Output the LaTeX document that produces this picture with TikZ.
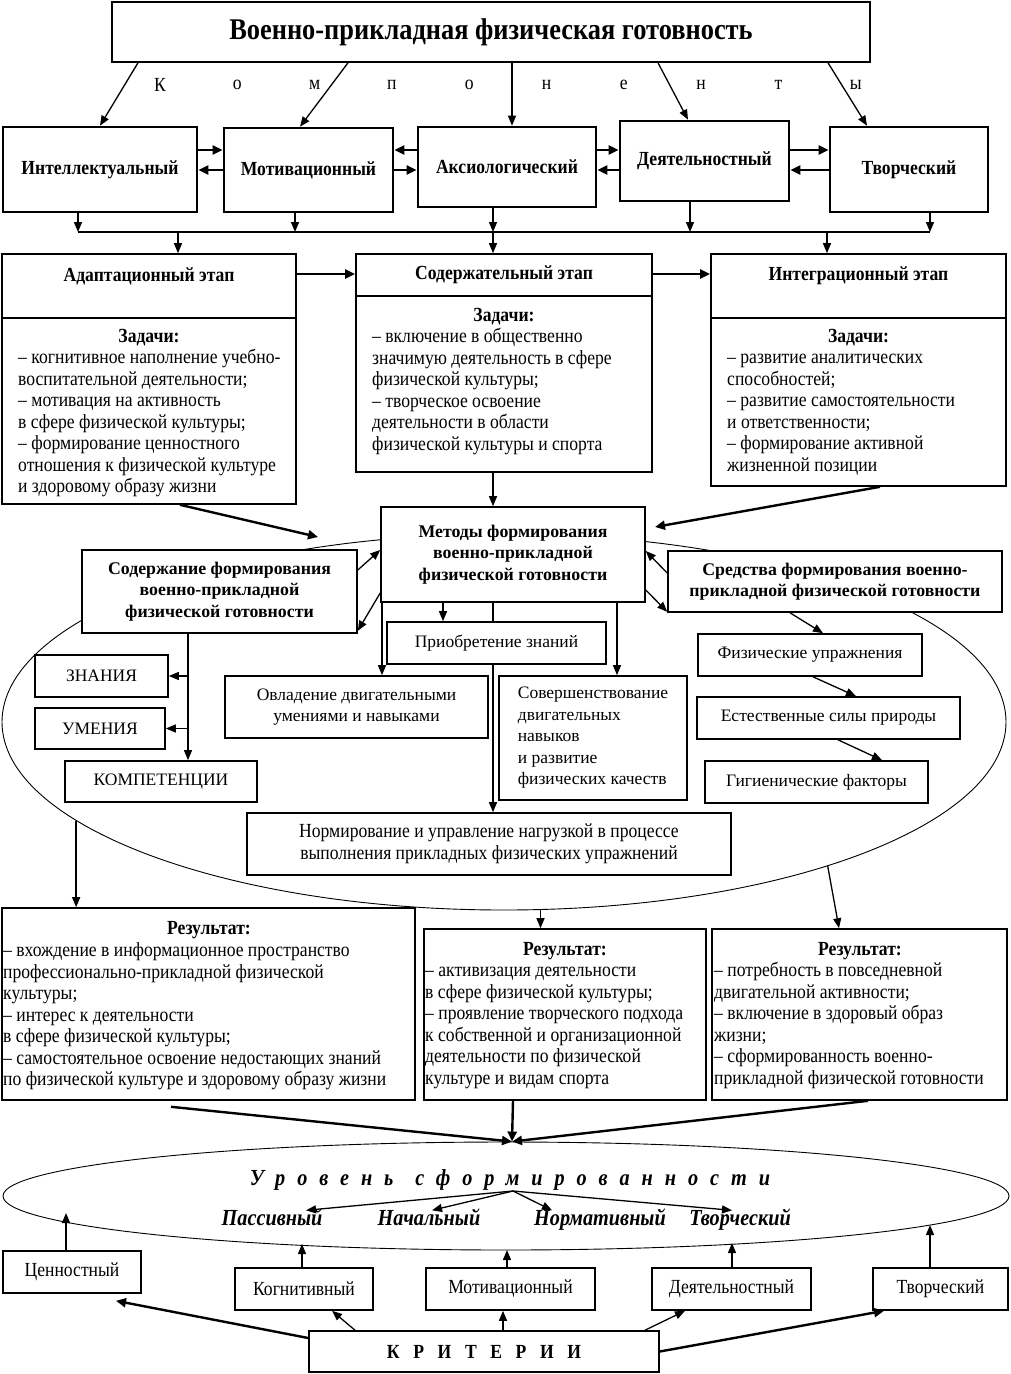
\documentclass[tikz,border=0pt]{standalone}
\usepackage{fontspec}
\setmainfont{Liberation Serif}[FakeStretch=0.88]
\newfontfamily\plainserif{Liberation Serif}
\usetikzlibrary{arrows.meta,shapes.geometric,calc}

\newcommand\ctxt{\fontsize{20}{21.5}\selectfont}
\newcommand\ctxtb{\fontsize{20}{21.5}\selectfont\bfseries}
\newcommand\ctitle{\fontsize{30}{32}\selectfont\bfseries}
\newcommand\ntxt{\plainserif\fontsize{17.5}{21.5}\selectfont}
\newcommand\ntxtb{\plainserif\fontsize{17.8}{21.5}\selectfont\bfseries}
\newcommand\clevel{\fontsize{23}{24}\selectfont\bfseries\itshape}

\tikzset{
  box/.style={draw, line width=1.6pt, fill=white, inner sep=0pt, align=center, font=\ctxt},
  compbox/.style={box, line width=2.6pt, font=\ctxtb},
  nbox/.style={box, font=\ntxt},
  oval/.style={draw, ellipse, line width=0.9pt, inner sep=0pt},
  textlines/.style={inner sep=0pt, anchor=north west, align=left, font=\ctxt},
  levelword/.style={font=\clevel, text height=15pt, text depth=4pt, inner sep=0pt},
  arr/.style={-{Triangle[length=10pt,width=8pt]}, line width=1.3pt},
  thick arr/.style={-{Triangle[length=10pt,width=9pt]}, line width=2.4pt},
}

\begin{document}
\begin{tikzpicture}[x=1pt,y=-1pt]
\useasboundingbox (0,0) rectangle (1010,1374);

% ellipses
\node[oval, minimum width=1004pt, minimum height=376pt] (field) at (504,722) {};
\node[oval, minimum width=1006pt, minimum height=108pt] (level) at (506,1196) {};

% title and components
\node[box, minimum width=758pt, minimum height=60pt, font=\ctitle] (title) at (491,32) {Военно-прикладная физическая готовность};
\foreach \ch [count=\i from 0] in {К,о,м,п,о,н,е,н,т,ы}
  \node[font=\ctxt] (let\i) at (160+77.3*\i,85) {\ch};

\node[compbox, minimum width=194pt, minimum height=85pt] (intel) at (100,169.5) {Интеллектуальный};
\node[compbox, minimum width=169pt, minimum height=84pt] (motiv) at (308.5,170) {Мотивационный};
\node[compbox, minimum width=178pt, minimum height=80pt] (axio) at (507,167) {Аксиологический};
\node[compbox, minimum width=169pt, minimum height=80pt] (deyat) at (704.5,161) {Деятельностный};
\node[compbox, minimum width=158pt, minimum height=85pt] (tvor) at (909,169.5) {Творческий};

\draw[arr] (138,0 |- title.south) -- (intel.north);
\draw[arr] (348,0 |- title.south) -- (300,0 |- motiv.north);
\draw[arr] (512,0 |- title.south) -- (512,0 |- axio.north);
\draw[arr] (658,0 |- title.south) -- (688,0 |- deyat.north);
\draw[arr] (828,0 |- title.south) -- (867,0 |- tvor.north);

\draw[thick arr] (intel.east |- 0,150) -- (motiv.west |- 0,150);
\draw[thick arr] (motiv.west |- 0,170) -- (intel.east |- 0,170);
\draw[thick arr] (axio.west |- 0,150) -- (motiv.east |- 0,150);
\draw[thick arr] (motiv.east |- 0,170) -- (axio.west |- 0,170);
\draw[thick arr] (axio.east |- 0,150) -- (deyat.west |- 0,150);
\draw[thick arr] (deyat.west |- 0,170) -- (axio.east |- 0,170);
\draw[thick arr] (deyat.east |- 0,150) -- (tvor.west |- 0,150);
\draw[thick arr] (tvor.west |- 0,170) -- (deyat.east |- 0,170);

% bus
\coordinate (busL) at (78,232);
\coordinate (busR) at (930,232);
\draw[line width=1.4pt] (busL) -- (busR);
\draw[arr] (78,0 |- intel.south) -- (busL);
\draw[arr] (295,0 |- motiv.south) -- (295,0 |- busL);
\draw[arr] (493,0 |- axio.south) -- (493,0 |- busL);
\draw[arr] (690,0 |- deyat.south) -- (690,0 |- busL);
\draw[arr] (930,0 |- tvor.south) -- (busR);

% stages
\node[box, minimum width=294pt, minimum height=186pt] (adaptB) at (149,411) {};
\node[box, minimum width=294pt, minimum height=64pt] (adaptH) at (149,286) {};
\node[font=\ctxtb] (adaptT) at (149,276) {Адаптационный этап};
\node[font=\ctxtb] (adaptZ) at (149,338) {Задачи:};
\node[textlines] (adaptL) at (18,348.5) {\strut– когнитивное наполнение учебно-\\воспитательной деятельности;\\– мотивация на активность\\в сфере физической культуры;\\– формирование ценностного\\отношения к физической культуре\\и здоровому образу жизни};

\node[box, minimum width=296pt, minimum height=176pt] (contB) at (504,384) {};
\node[box, minimum width=296pt, minimum height=42pt, font=\ctxtb] (contH) at (504,275) {Содержательный этап};
\node[font=\ctxtb] (contZ) at (504,317) {Задачи:};
\node[textlines] (contL) at (372,327.5) {\strut– включение в общественно\\значимую деятельность в сфере\\физической культуры;\\– творческое освоение\\деятельности в области\\физической культуры и спорта};

\node[box, minimum width=295pt, minimum height=168pt] (integB) at (858.5,402) {};
\node[box, minimum width=295pt, minimum height=64pt] (integH) at (858.5,286) {};
\node[font=\ctxtb] (integT) at (858.5,276) {Интеграционный этап};
\node[font=\ctxtb] (integZ) at (858.5,338) {Задачи:};
\node[textlines] (integL) at (727,348.5) {\strut– развитие аналитических\\способностей;\\– развитие самостоятельности\\и ответственности;\\– формирование активной\\жизненной позиции};

\draw[arr] (178,0 |- busL) -- (178,0 |- adaptH.north);
\draw[arr] (493,0 |- busL) -- (493,0 |- contH.north);
\draw[arr] (827,0 |- busL) -- (827,0 |- integH.north);
\draw[thick arr] (adaptH.east |- 0,274) -- (contH.west |- 0,274);
\draw[thick arr] (contH.east |- 0,274) -- (integH.west |- 0,274);

% methods, content, means
\node[box, minimum width=264pt, minimum height=95pt, font=\ntxtb] (methods) at (513,554.5) {Методы формирования\\военно-прикладной\\физической готовности};
\node[box, minimum width=275pt, minimum height=83pt, font=\ntxtb] (content) at (219.5,591.5) {Содержание формирования\\военно-прикладной\\физической готовности};
\node[box, minimum width=334pt, minimum height=61pt, font=\ntxtb] (means) at (835,581.5) {Средства формирования военно-\\прикладной физической готовности};

\draw[arr] (493,0 |- contB.south) -- (493,0 |- methods.north);
\coordinate (fieldL) at (318,537);
\coordinate (fieldR) at (655,527);
\draw[thick arr] (180,0 |- adaptB.south) -- (fieldL);
\draw[thick arr] (880,0 |- integB.south) -- (fieldR);

\draw[arr] (content.east |- 0,570) -- (methods.west |- 0,550);
\draw[arr] (methods.west |- 0,593) -- ($(content.south east)+(0,-3)$);
\draw[arr] (means.west |- 0,573) -- (methods.east |- 0,551);
\draw[arr] (methods.east |- 0,590) -- ($(means.south west)+(0,-1)$);

\node[box, minimum width=484pt, minimum height=62pt] (norm) at (489,844) {Нормирование и управление нагрузкой в процессе\\выполнения прикладных физических упражнений};
\draw[arr] (493,0 |- methods.south) -- (493,0 |- norm.north);
\node[nbox, minimum width=219pt, minimum height=42pt] (acq) at (496.5,643) {Приобретение знаний};
\node[nbox, minimum width=263pt, minimum height=62pt] (vlad) at (356.5,707) {Овладение двигательными\\умениями и навыками};
\node[nbox, minimum width=188pt, minimum height=124pt, align=left] (perf) at (593,738) {Совершенствование\\двигательных\\навыков\\и развитие\\физических качеств};
\draw[arr] (382,0 |- methods.south) -- (382,0 |- vlad.north);
\draw[arr] (443,0 |- methods.south) -- (443,0 |- acq.north);
\draw[arr] (617,0 |- methods.south) -- (617,0 |- perf.north);

\node[nbox, minimum width=133pt, minimum height=42pt] (know) at (101.5,676) {ЗНАНИЯ};
\node[nbox, minimum width=130pt, minimum height=41pt] (skill) at (100,728.5) {УМЕНИЯ};
\node[nbox, minimum width=192pt, minimum height=41pt] (compet) at (161,781.5) {КОМПЕТЕНЦИИ};
\draw[arr] (188,0 |- content.south) -- (188,0 |- compet.north);
\draw[arr] (188,0 |- know.east) -- (know.east);
\draw[arr] (188,0 |- skill.east) -- (skill.east);

\node[nbox, minimum width=224pt, minimum height=42pt] (phys) at (810,655) {Физические упражнения};
\node[nbox, minimum width=263pt, minimum height=42pt] (nat) at (828.5,718) {Естественные силы природы};
\node[nbox, minimum width=223pt, minimum height=42pt] (hyg) at (816.5,782) {Гигиенические факторы};
\draw[arr] (790,0 |- means.south) -- (823,0 |- phys.north);
\draw[arr] (813,0 |- phys.south) -- (856,0 |- nat.north);
\draw[arr] (838,0 |- nat.south) -- (882,0 |- hyg.north);

% results
\node[box, minimum width=413pt, minimum height=192pt] (res1) at (208.5,1004) {};
\node[box, minimum width=282pt, minimum height=171pt] (res2) at (565,1014.5) {};
\node[box, minimum width=295pt, minimum height=171pt] (res3) at (859.5,1014.5) {};
\node[font=\ctxtb] (res1Z) at (209,930) {Результат:};
\node[font=\ctxtb] (res2Z) at (565,951) {Результат:};
\node[font=\ctxtb] (res3Z) at (860,951) {Результат:};
\node[textlines] (res1L) at (3,941.5) {\strut– вхождение в информационное пространство\\профессионально-прикладной физической\\культуры;\\– интерес к деятельности\\в сфере физической культуры;\\– самостоятельное освоение недостающих знаний\\по физической культуре и здоровому образу жизни};
\node[textlines] (res2L) at (425,961.5) {\strut– активизация деятельности\\в сфере физической культуры;\\– проявление творческого подхода\\к собственной и организационной\\деятельности по физической\\культуре и видам спорта};
\node[textlines] (res3L) at (714,961.5) {\strut– потребность в повседневной\\двигательной активности;\\– включение в здоровый образ\\жизни;\\– сформированность военно-\\прикладной физической готовности};

\draw[arr] (field.193.75) -- (field.193.75 |- res1.north);
\draw[arr] (field.281.8) -- (field.281.8 |- res2.north);
\draw[arr] (field.336.4) -- (839,0 |- res3.north);

% level of formation
\coordinate (levelIn) at ($(level.north)+(6,0)$);
\draw[thick arr] ($(171,0 |- res1.south)+(0,6)$) -- (levelIn);
\draw[thick arr] (513,0 |- res2.south) -- (levelIn);
\draw[thick arr] (868,0 |- res3.south) -- (levelIn);

\node[font=\clevel] (levelT) at (510,1180) {\addfontfeatures{LetterSpace=52}Уровень\hspace{22pt}сформированности};
\node[levelword] (pass) at (272,1220) {Пассивный};
\node[levelword] (init) at (429,1220) {Начальный};
\node[levelword] (normat) at (600,1220) {Нормативный};
\node[levelword] (creat) at (740,1220) {Творческий};
\coordinate (levelSrc) at (513,1191);
\draw[arr] (levelSrc) -- (306,0 |- pass.north);
\draw[arr] (levelSrc) -- (432,0 |- init.north);
\draw[arr] (levelSrc) -- (552,0 |- normat.north);
\draw[arr] (levelSrc) -- (732,0 |- creat.north);

% criteria
\node[box, minimum width=138pt, minimum height=42pt] (cval) at (72,1272) {Ценностный};
\node[box, minimum width=138pt, minimum height=42pt] (ccog) at (304,1289) {Когнитивный};
\node[box, minimum width=169pt, minimum height=42pt] (cmot) at (510.5,1289) {Мотивационный};
\node[box, minimum width=159pt, minimum height=42pt] (cact) at (731.5,1289) {Деятельностный};
\node[box, minimum width=135pt, minimum height=42pt] (ccre) at (940.5,1289) {Творческий};
\node[box, minimum width=350pt, minimum height=41pt, font=\ctxtb] (crit) at (484,1351.5) {\addfontfeatures{LetterSpace=68}КРИТЕРИИ};

\coordinate (lv1) at (66,1213);
\coordinate (lv2) at (302,1244);
\coordinate (lv3) at (507,1250);
\coordinate (lv4) at (732,1243);
\coordinate (lv5) at (930,1225);
\draw[arr] (66,0 |- cval.north) -- (lv1);
\draw[arr] (302,0 |- ccog.north) -- (lv2);
\draw[arr] (507,0 |- cmot.north) -- (lv3);
\draw[arr] (732,0 |- cact.north) -- (lv4);
\draw[arr] (930,0 |- ccre.north) -- (lv5);

\draw[thick arr] (crit.west |- 0,1338) -- ($(116,0 |- cval.south)+(0,7)$);
\draw[arr] (355,0 |- crit.north) -- (332,0 |- ccog.south);
\draw[arr] (503,0 |- crit.north) -- (503,0 |- cmot.south);
\draw[arr] (645,0 |- crit.north) -- (685,0 |- cact.south);
\draw[thick arr] (crit.east) -- (884,0 |- ccre.south);
\end{tikzpicture}
\end{document}
